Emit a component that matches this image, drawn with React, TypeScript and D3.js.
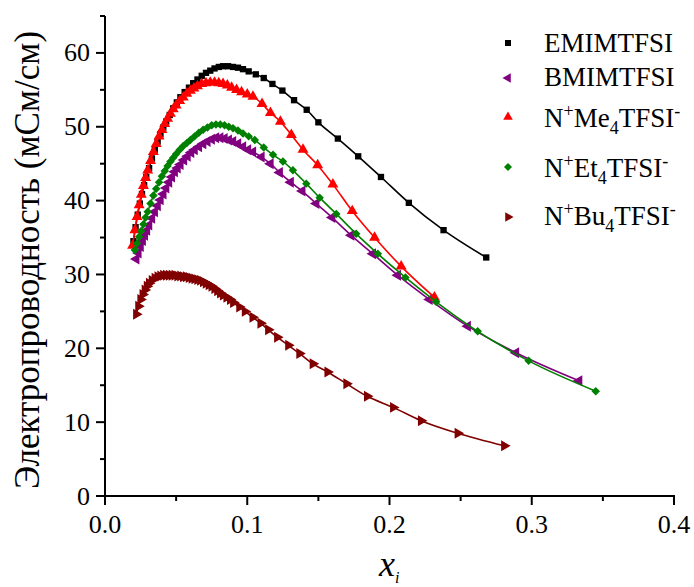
import React from 'react';
import * as d3 from 'd3';

// ---- Data ----
const emimX = [0.020, 0.0215, 0.023, 0.0245, 0.026, 0.0275, 0.029, 0.031, 0.033, 0.035, 0.037, 0.039, 0.041, 0.043, 0.0455, 0.048, 0.0505, 0.053, 0.056, 0.059, 0.062, 0.065, 0.068, 0.071, 0.074, 0.077, 0.080, 0.083, 0.0865, 0.090, 0.0935, 0.097, 0.101, 0.106, 0.1116, 0.1177, 0.1247, 0.1329, 0.1418, 0.150, 0.1637, 0.178, 0.194, 0.2136, 0.238, 0.268];
const emimY = [34.5, 36.4, 38.1, 39.6, 40.9, 42.1, 43.2, 44.4, 45.7, 46.9, 48.0, 49.0, 49.9, 50.7, 51.6, 52.5, 53.3, 54.0, 54.7, 55.3, 55.9, 56.4, 56.9, 57.3, 57.6, 57.9, 58.1, 58.2, 58.2, 58.1, 58.0, 57.8, 57.5, 57.1, 56.6, 55.8, 54.9, 53.6, 52.3, 50.6, 48.4, 46.0, 43.2, 39.7, 36.0, 32.3];

const bmimX = [0.022, 0.0235, 0.025, 0.0265, 0.028, 0.0295, 0.031, 0.033, 0.035, 0.037, 0.039, 0.041, 0.043, 0.045, 0.047, 0.049, 0.051, 0.053, 0.0555, 0.058, 0.0605, 0.063, 0.066, 0.069, 0.072, 0.075, 0.078, 0.081, 0.084, 0.087, 0.090, 0.0935, 0.097, 0.1005, 0.104, 0.11, 0.1163, 0.1228, 0.1305, 0.1387, 0.1485, 0.1597, 0.1731, 0.1883, 0.2058, 0.2281, 0.255, 0.2889, 0.3333];
const bmimY = [32.1, 32.9, 33.8, 34.6, 35.3, 36.0, 36.7, 37.6, 38.5, 39.3, 40.1, 40.9, 41.7, 42.5, 43.2, 43.9, 44.4, 44.9, 45.5, 46.0, 46.5, 46.9, 47.3, 47.7, 48.0, 48.3, 48.5, 48.5, 48.4, 48.2, 48.0, 47.7, 47.3, 46.9, 46.6, 45.9, 45.0, 43.8, 42.5, 41.3, 39.6, 37.7, 35.3, 32.8, 29.9, 26.6, 23.0, 19.4, 15.6];

const me4X = [0.0194, 0.021, 0.0225, 0.024, 0.0255, 0.027, 0.0285, 0.030, 0.032, 0.034, 0.036, 0.038, 0.040, 0.042, 0.044, 0.046, 0.048, 0.050, 0.0525, 0.055, 0.0575, 0.060, 0.0625, 0.065, 0.068, 0.071, 0.074, 0.077, 0.080, 0.083, 0.086, 0.089, 0.0925, 0.096, 0.100, 0.104, 0.1104, 0.1163, 0.1233, 0.131, 0.1392, 0.1495, 0.1602, 0.1738, 0.1895, 0.2082, 0.2316];
const me4Y = [33.9, 36.0, 37.8, 39.4, 40.8, 42.0, 43.1, 44.1, 45.4, 46.6, 47.7, 48.7, 49.6, 50.4, 51.1, 51.8, 52.4, 52.9, 53.5, 54.0, 54.5, 54.9, 55.2, 55.5, 55.8, 55.9, 56.0, 56.0, 55.9, 55.8, 55.6, 55.3, 55.0, 54.7, 54.4, 54.1, 53.1, 51.9, 50.7, 48.9, 46.9, 44.8, 42.2, 38.6, 35.0, 31.1, 26.9];

const et4X = [0.021, 0.0225, 0.024, 0.0255, 0.027, 0.0285, 0.030, 0.032, 0.034, 0.036, 0.038, 0.040, 0.042, 0.044, 0.046, 0.048, 0.050, 0.0525, 0.055, 0.0575, 0.060, 0.063, 0.066, 0.069, 0.072, 0.075, 0.078, 0.081, 0.084, 0.087, 0.090, 0.0935, 0.097, 0.101, 0.1053, 0.1116, 0.1181, 0.1251, 0.1321, 0.1415, 0.1509, 0.1626, 0.1766, 0.1918, 0.2112, 0.2328, 0.262, 0.2978, 0.345];
const et4Y = [33.3, 34.2, 35.1, 35.9, 36.8, 37.7, 38.5, 39.6, 40.7, 41.6, 42.5, 43.3, 44.0, 44.7, 45.3, 45.8, 46.3, 46.9, 47.4, 47.8, 48.2, 48.7, 49.2, 49.6, 49.9, 50.2, 50.3, 50.3, 50.2, 50.0, 49.8, 49.5, 49.1, 48.7, 48.2, 47.2, 46.2, 45.3, 44.1, 42.3, 40.4, 38.2, 35.5, 32.8, 29.6, 26.3, 22.3, 18.3, 14.2];

const bu4X = [0.022, 0.0235, 0.025, 0.0265, 0.028, 0.0295, 0.031, 0.033, 0.035, 0.037, 0.039, 0.041, 0.043, 0.045, 0.047, 0.049, 0.051, 0.053, 0.055, 0.057, 0.059, 0.061, 0.063, 0.065, 0.067, 0.069, 0.071, 0.073, 0.075, 0.077, 0.079, 0.081, 0.083, 0.0855, 0.088, 0.0902, 0.0945, 0.0984, 0.1038, 0.1094, 0.1148, 0.1211, 0.1289, 0.1367, 0.1461, 0.1565, 0.1698, 0.1843, 0.2026, 0.2222, 0.2480, 0.2807];
const bu4Y = [24.6, 25.7, 26.6, 27.3, 27.9, 28.4, 28.8, 29.2, 29.5, 29.7, 29.8, 29.9, 29.9, 29.9, 29.9, 29.9, 29.8, 29.8, 29.7, 29.7, 29.6, 29.5, 29.4, 29.3, 29.2, 29.0, 28.8, 28.6, 28.4, 28.1, 27.8, 27.5, 27.2, 26.9, 26.6, 26.2, 25.6, 25.0, 24.2, 23.4, 22.5, 21.5, 20.4, 19.3, 17.9, 16.8, 15.2, 13.5, 12.0, 10.2, 8.5, 6.8];

const xMajorTicks = [0, 0.1, 0.2, 0.3, 0.4];
const xMinorTicks = [0.05, 0.15, 0.25, 0.35];
const yMajorTicks = [0, 10, 20, 30, 40, 50, 60];
const yMinorTicks = [5, 15, 25, 35, 45, 55, 65];

type Shape = 'square' | 'left' | 'up' | 'diamond' | 'right';

const series: { key: string; xs: number[]; ys: number[]; color: string; shape: Shape }[] = [
  { key: 'emim', xs: emimX, ys: emimY, color: '#000000', shape: 'square' },
  { key: 'bmim', xs: bmimX, ys: bmimY, color: '#800080', shape: 'left' },
  { key: 'me4', xs: me4X, ys: me4Y, color: '#ff0000', shape: 'up' },
  { key: 'et4', xs: et4X, ys: et4Y, color: '#008000', shape: 'diamond' },
  { key: 'bu4', xs: bu4X, ys: bu4Y, color: '#800000', shape: 'right' },
];

const FONT = "'Liberation Serif', 'Times New Roman', 'DejaVu Serif', serif";

const symPath = (shape: Shape, size: number) => {
  if (shape === 'square' || shape === 'diamond') return d3.symbol(d3.symbolSquare, size)() as string;
  return d3.symbol(d3.symbolTriangle, size)() as string;
};
const symRot = (shape: Shape) => {
  if (shape === 'left') return -90;
  if (shape === 'right') return 90;
  if (shape === 'diamond') return 45;
  return 0;
};

const Marker = ({ x, y, shape, color, size }: { x: number; y: number; shape: Shape; color: string; size: number }) => (
  <path d={symPath(shape, size)} transform={`translate(${x},${y}) rotate(${symRot(shape)})`} fill={color} />
);

const T = (props: any) => <text {...props} style={{ fontFamily: FONT, ...(props.style || {}) }} />;

export default function App() {
  const W = 694, H = 587;
  const x = d3.scaleLinear().domain([0, 0.4]).range([105, 674]);
  const y = d3.scaleLinear().domain([0, 65]).range([496, 16]);
  const line = d3.line<[number, number]>().x(d => x(d[0])).y(d => y(d[1])).curve(d3.curveMonotoneX);

  const legendRows = [
    { shape: 'square' as Shape, color: '#000000', my: 43, by: 52, parts: [{ t: 'EMIMTFSI' }] },
    { shape: 'left' as Shape, color: '#800080', my: 78, by: 86, parts: [{ t: 'BMIMTFSI' }] },
    { shape: 'up' as Shape, color: '#ff0000', my: 117, by: 127, parts: [{ t: 'N' }, { t: '+', sup: true }, { t: 'Me' }, { t: '4', sub: true }, { t: 'TFSI' }, { t: '-', sup: true }] },
    { shape: 'diamond' as Shape, color: '#008000', my: 167, by: 177, parts: [{ t: 'N' }, { t: '+', sup: true }, { t: 'Et' }, { t: '4', sub: true }, { t: 'TFSI' }, { t: '-', sup: true }] },
    { shape: 'right' as Shape, color: '#800000', my: 217, by: 225, parts: [{ t: 'N' }, { t: '+', sup: true }, { t: 'Bu' }, { t: '4', sub: true }, { t: 'TFSI' }, { t: '-', sup: true }] },
  ];

  return (
    <svg width={W} height={H} style={{ position: 'absolute', left: 0, top: 0, background: '#fff', fontFamily: FONT }}>
      <rect x={0} y={0} width={W} height={H} fill="#fff" />
      {series.map(s => {
        const pts = s.xs.map((v, i) => [v, s.ys[i]] as [number, number]);
        return (
          <g key={s.key}>
            <path d={line(pts) as string} fill="none" stroke={s.color} strokeWidth={1.6} />
            {pts.map((p, i) => (
              <Marker key={i} x={x(p[0])} y={y(p[1])} shape={s.shape} color={s.color} size={s.shape === 'square' ? 40 : s.shape === 'diamond' ? 36 : 52} />
            ))}
          </g>
        );
      })}
      <line x1={x(0)} x2={x(0.4) + 1} y1={y(0)} y2={y(0)} stroke="#000" strokeWidth={2} />
      <line x1={x(0)} x2={x(0)} y1={y(0) + 1} y2={y(65)} stroke="#000" strokeWidth={2} />
      {xMajorTicks.map((t, i) => (
        <g key={'xM' + i}>
          <line x1={x(t)} x2={x(t)} y1={y(0)} y2={y(0) + 9} stroke="#000" strokeWidth={2} />
          <T x={x(t)} y={533} textAnchor="middle" fontSize={26}>{t.toFixed(1)}</T>
        </g>
      ))}
      {xMinorTicks.map((t, i) => (
        <line key={'xm' + i} x1={x(t)} x2={x(t)} y1={y(0)} y2={y(0) + 5} stroke="#000" strokeWidth={2} />
      ))}
      {yMajorTicks.map((t, i) => (
        <g key={'yM' + i}>
          <line x1={x(0) - 9} x2={x(0)} y1={y(t)} y2={y(t)} stroke="#000" strokeWidth={2} />
          <T x={90} y={y(t) + 8.5} textAnchor="end" fontSize={26}>{t}</T>
        </g>
      ))}
      {yMinorTicks.map((t, i) => (
        <line key={'ym' + i} x1={x(0) - 5} x2={x(0)} y1={y(t)} y2={y(t)} stroke="#000" strokeWidth={2} />
      ))}
      <T transform="translate(39,260) rotate(-90)" textAnchor="middle" fontSize={35}>Электропроводность (мСм/см)</T>
      <T x={379} y={576} fontSize={36} fontStyle="italic">x<tspan fontSize={16} dy={7}>i</tspan></T>
      {legendRows.map((r, i) => (
        <g key={'lg' + i}>
          <Marker x={508} y={r.my} shape={r.shape} color={r.color} size={r.shape === 'square' ? 36 : r.shape === 'diamond' ? 32 : 40} />
          <T x={544} y={r.by} fontSize={27}>
            {r.parts.map((p: any, j: number) => {
              if (p.sup) return <tspan key={j} fontSize={18} baselineShift="55%">{p.t}</tspan>;
              if (p.sub) return <tspan key={j} fontSize={18} baselineShift="-40%">{p.t}</tspan>;
              return <tspan key={j}>{p.t}</tspan>;
            })}
          </T>
        </g>
      ))}
    </svg>
  );
}
